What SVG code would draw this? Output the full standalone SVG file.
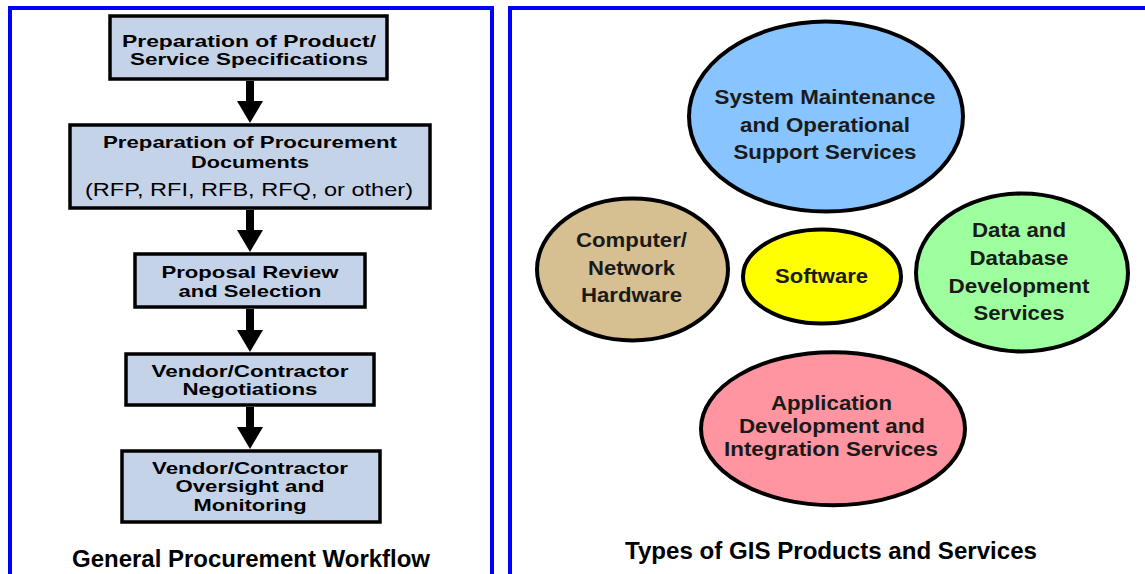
<svg xmlns="http://www.w3.org/2000/svg" width="1145" height="574" viewBox="0 0 1145 574">
<defs>
<style>
.panel{fill:none;stroke:#0000ff;stroke-width:4}
.box rect{fill:#c5d3e8;stroke:#000;stroke-width:3.5}
.bt{font-family:"Liberation Sans",Arial,sans-serif;font-weight:bold;font-size:17px;fill:#000;text-anchor:middle}
.rt{font-family:"Liberation Sans",Arial,sans-serif;font-weight:normal;font-size:19px;fill:#000;text-anchor:middle}
.el ellipse{stroke:#000;stroke-width:4}
.et{font-family:"Liberation Sans",Arial,sans-serif;font-weight:bold;font-size:20px;fill:#1a1a1a;text-anchor:middle}
.title{font-family:"Liberation Sans",Arial,sans-serif;font-weight:bold;font-size:23.5px;fill:#000;text-anchor:middle}
.conn line{stroke:#000;stroke-width:8}
</style>
<marker id="ah" viewBox="0 0 22 26" refX="0" refY="13" markerWidth="22" markerHeight="26" markerUnits="userSpaceOnUse" orient="auto">
<path d="M0,0 L22,13 L0,26 Z" fill="#000"/>
</marker>
</defs>
<rect width="1145" height="574" fill="#fff"/>
<path class="panel" d="M10,576 V8 H492 V576"/>
<path class="panel" d="M510,576 V8 H1150"/>

<g id="connectors" class="conn">
<line x1="250" y1="81" x2="250" y2="101" marker-end="url(#ah)"/>
<line x1="250" y1="210" x2="250" y2="230" marker-end="url(#ah)"/>
<line x1="250" y1="309" x2="250" y2="330" marker-end="url(#ah)"/>
<line x1="250" y1="407" x2="250" y2="427" marker-end="url(#ah)"/>
</g>

<g id="box1" class="box">
<rect x="110" y="16" width="277" height="63"/>
<text class="bt" x="249" y="47" textLength="254" lengthAdjust="spacingAndGlyphs">Preparation of Product/</text>
<text class="bt" x="249" y="65" textLength="238" lengthAdjust="spacingAndGlyphs">Service Specifications</text>
</g>
<g id="box2" class="box">
<rect x="70" y="125" width="360" height="83"/>
<text class="bt" x="250" y="148" textLength="294" lengthAdjust="spacingAndGlyphs">Preparation of Procurement</text>
<text class="bt" x="250" y="168" textLength="118" lengthAdjust="spacingAndGlyphs">Documents</text>
<text class="rt" x="249" y="196" textLength="328" lengthAdjust="spacingAndGlyphs">(RFP, RFI, RFB, RFQ, or other)</text>
</g>
<g id="box3" class="box">
<rect x="135" y="254" width="230" height="53"/>
<text class="bt" x="250" y="278" textLength="177" lengthAdjust="spacingAndGlyphs">Proposal Review</text>
<text class="bt" x="250" y="297" textLength="143" lengthAdjust="spacingAndGlyphs">and Selection</text>
</g>
<g id="box4" class="box">
<rect x="126" y="354" width="248" height="51"/>
<text class="bt" x="250" y="377" textLength="197" lengthAdjust="spacingAndGlyphs">Vendor/Contractor</text>
<text class="bt" x="250" y="395" textLength="135" lengthAdjust="spacingAndGlyphs">Negotiations</text>
</g>
<g id="box5" class="box">
<rect x="122" y="451" width="258" height="71"/>
<text class="bt" x="250" y="474" textLength="196" lengthAdjust="spacingAndGlyphs">Vendor/Contractor</text>
<text class="bt" x="250" y="492" textLength="149" lengthAdjust="spacingAndGlyphs">Oversight and</text>
<text class="bt" x="250" y="511" textLength="113" lengthAdjust="spacingAndGlyphs">Monitoring</text>
</g>
<g id="title-left">
<text class="title" x="251" y="567" textLength="358" lengthAdjust="spacingAndGlyphs">General Procurement Workflow</text>
</g>

<g id="maintenance" class="el">
<ellipse cx="826" cy="116.5" rx="137" ry="95" fill="#88c4ff"/>
<text class="et" x="825" y="104" textLength="221" lengthAdjust="spacingAndGlyphs">System Maintenance</text>
<text class="et" x="825" y="132" textLength="170" lengthAdjust="spacingAndGlyphs">and Operational</text>
<text class="et" x="825" y="159" textLength="183" lengthAdjust="spacingAndGlyphs">Support Services</text>
</g>
<g id="hardware" class="el">
<ellipse cx="632.5" cy="269.5" rx="95.5" ry="71" fill="#d6bf91"/>
<text class="et" x="631.5" y="247" textLength="111" lengthAdjust="spacingAndGlyphs">Computer/</text>
<text class="et" x="631.5" y="275" textLength="87" lengthAdjust="spacingAndGlyphs">Network</text>
<text class="et" x="631.5" y="302" textLength="101" lengthAdjust="spacingAndGlyphs">Hardware</text>
</g>
<g id="software" class="el">
<ellipse cx="822" cy="276.5" rx="79" ry="47" fill="#ffff00"/>
<text class="et" x="821.5" y="283" textLength="93" lengthAdjust="spacingAndGlyphs">Software</text>
</g>
<g id="data" class="el">
<ellipse cx="1022" cy="272.5" rx="106" ry="79" fill="#9eff9e"/>
<text class="et" x="1019" y="237" textLength="94" lengthAdjust="spacingAndGlyphs">Data and</text>
<text class="et" x="1019" y="265" textLength="99" lengthAdjust="spacingAndGlyphs">Database</text>
<text class="et" x="1019" y="293" textLength="141" lengthAdjust="spacingAndGlyphs">Development</text>
<text class="et" x="1019" y="320" textLength="91" lengthAdjust="spacingAndGlyphs">Services</text>
</g>
<g id="application" class="el">
<ellipse cx="833" cy="428.7" rx="132" ry="76.5" fill="#ff95a0"/>
<text class="et" x="831.5" y="410" textLength="121" lengthAdjust="spacingAndGlyphs">Application</text>
<text class="et" x="832" y="433" textLength="186" lengthAdjust="spacingAndGlyphs">Development and</text>
<text class="et" x="831" y="456" textLength="214" lengthAdjust="spacingAndGlyphs">Integration Services</text>
</g>
<g id="title-right">
<text class="title" x="831" y="559" textLength="412" lengthAdjust="spacingAndGlyphs">Types of GIS Products and Services</text>
</g>
</svg>
